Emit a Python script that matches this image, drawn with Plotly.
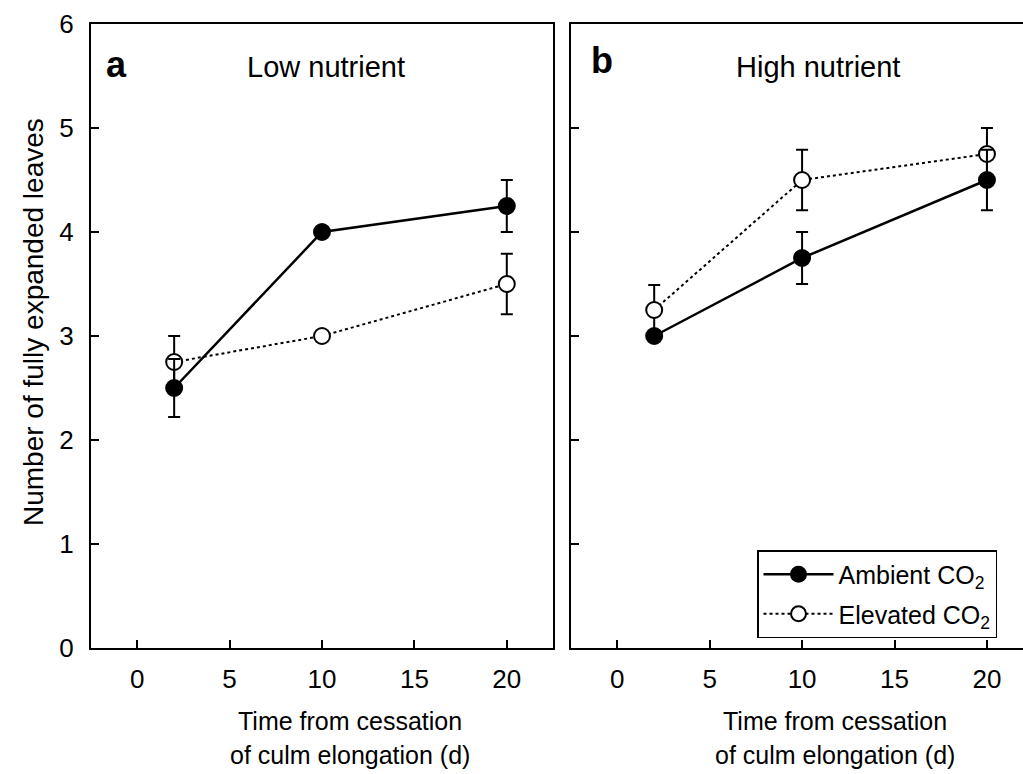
import plotly.graph_objects as go

# ---- data ----
days = [2, 10, 20]
low_ambient = [2.5, 4.0, 4.25]
low_ambient_err = [0.28, 0.0, 0.25]
low_elevated = [2.75, 3.0, 3.5]
low_elevated_err = [0.25, 0.0, 0.29]
high_ambient = [3.0, 3.75, 4.5]
high_ambient_err = [0.0, 0.25, 0.29]
high_elevated = [3.25, 4.5, 4.75]
high_elevated_err = [0.24, 0.29, 0.25]
x_ticks = [0, 5, 10, 15, 20]
y_ticks = [0, 1, 2, 3, 4, 5, 6]

FONT = "Liberation Sans, Arial, sans-serif"
W, H = 1023, 774
ML, MR, MT, MB = 91, 0, 24, 126
PW = W - ML - MR
PH = H - MT - MB


def px(x):
    return (x - ML) / PW


def py(y):
    return (H - MB - y) / PH


fig = go.Figure()


def add_series(x, y, err, xa, ya, filled, name):
    fig.add_trace(go.Scatter(
        x=x, y=y, xaxis=xa, yaxis=ya, name=name, showlegend=False,
        mode="lines+markers",
        line=dict(color="black", width=2.5 if filled else 2,
                  dash="solid" if filled else "dot"),
        marker=dict(size=16, symbol="circle",
                    color="black" if filled else "white",
                    line=dict(color="black", width=2)),
        error_y=dict(type="data", array=err, visible=True,
                     color="black", thickness=2, width=6),
    ))


add_series(days, low_elevated, low_elevated_err, "x", "y", False, "Elevated CO<sub>2</sub>")
add_series(days, low_ambient, low_ambient_err, "x", "y", True, "Ambient CO<sub>2</sub>")
add_series(days, high_elevated, high_elevated_err, "x2", "y2", False, "Elevated CO<sub>2</sub>")
add_series(days, high_ambient, high_ambient_err, "x2", "y2", True, "Ambient CO<sub>2</sub>")

# legend entries, in the reference order
for i, (filled, name) in enumerate([(True, "Ambient CO<sub>2</sub>"),
                                    (False, "Elevated CO<sub>2</sub>")]):
    fig.add_trace(go.Scatter(
        x=[None], y=[None], xaxis="x2", yaxis="y2", name=name, mode="lines+markers",
        legendgroup="g%d" % i,
        line=dict(color="black", width=2.5 if filled else 2,
                  dash="solid" if filled else "dot"),
        marker=dict(size=15, color="black" if filled else "white",
                    line=dict(color="black", width=2)),
    ))

axis_common = dict(showline=True, linecolor="black", linewidth=2, ticks="inside",
                   ticklen=8, tickwidth=1.5, tickcolor="black", showgrid=False,
                   zeroline=False, tickfont=dict(family=FONT, size=26, color="black"))

left_end = px(553)
right_start = px(571)

fig.update_layout(
    width=W, height=H,
    margin=dict(l=ML, r=MR, t=MT, b=MB),
    paper_bgcolor="white", plot_bgcolor="white",
    font=dict(family=FONT, color="black"),
    xaxis=dict(domain=[0, left_end], range=[-2.5, 22.5], tickvals=x_ticks,
               mirror=True, anchor="y", ticklabelstandoff=7, **axis_common),
    yaxis=dict(domain=[0, 1], range=[0, 6], tickvals=y_ticks, mirror=True,
               anchor="x", ticklabelstandoff=10, **axis_common),
    xaxis2=dict(domain=[right_start, 1], range=[-2.5, 21.95], tickvals=x_ticks,
                mirror=True, anchor="y2", ticklabelstandoff=7, **axis_common),
    yaxis2=dict(domain=[0, 1], range=[0, 6], tickvals=y_ticks, showticklabels=False,
                anchor="x2", **axis_common),
    legend=dict(x=px(757), y=py(550), xanchor="left", yanchor="top",
                bordercolor="black", borderwidth=1.5, bgcolor="white",
                font=dict(family=FONT, size=25, color="black"),
                tracegroupgap=4, itemwidth=70),
)

ann = [
    dict(text="<b>a</b>", x=px(116), y=py(64), size=36),
    dict(text="<b>b</b>", x=px(602), y=py(60), size=36),
    dict(text="Low nutrient", x=px(326), y=py(67), size=29),
    dict(text="High nutrient", x=px(818), y=py(67), size=29),
]
for a in ann:
    fig.add_annotation(xref="paper", yref="paper", x=a["x"], y=a["y"], text=a["text"],
                       showarrow=False, xanchor="center", yanchor="middle",
                       font=dict(family=FONT, size=a["size"], color="black"))

for cx in (350, 835):
    for txt, cy in (("Time from cessation", 721), ("of culm elongation (d)", 755)):
        fig.add_annotation(xref="paper", yref="paper", x=px(cx), y=py(cy), text=txt,
                           showarrow=False, xanchor="center", yanchor="middle",
                           font=dict(family=FONT, size=25, color="black"))

fig.add_annotation(xref="paper", yref="paper", x=px(33), y=py(322),
                   text="Number of fully expanded leaves", textangle=-90,
                   showarrow=False, xanchor="center", yanchor="middle",
                   font=dict(family=FONT, size=28, color="black"))

fig.write_html("out.html", config={"displayModeBar": False},
               post_script="document.body.style.margin='0';document.body.style.overflow='hidden';")
